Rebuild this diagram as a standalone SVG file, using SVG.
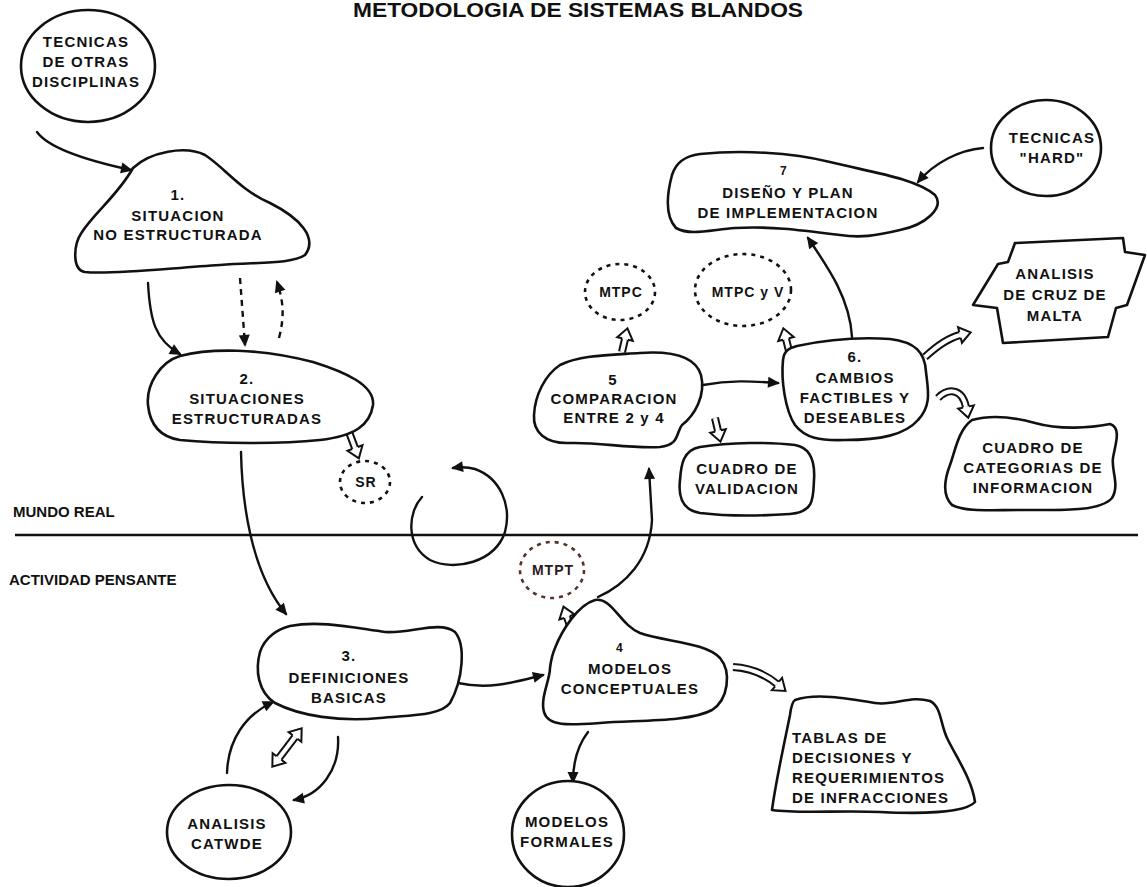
<svg xmlns="http://www.w3.org/2000/svg" width="1147" height="887" viewBox="0 0 1147 887">
  <style>
    .node { fill: #fff; stroke: #111; stroke-width: 2.6; stroke-linejoin: round; }
    .dnode { fill: none; stroke: #111; stroke-width: 2.6; stroke-dasharray: 4 5; }
    .t { font-family: "Liberation Sans", Arial, sans-serif; font-weight: bold; font-size: 15px; letter-spacing: 1.2px; fill: #111; text-anchor: middle; }
    .ts { font-size: 14px; letter-spacing: 1px; }
    .tn { font-size: 12px; }
    .lbl { font-family: "Liberation Sans", Arial, sans-serif; font-weight: bold; font-size: 15px; fill: #111; }
    .c { fill: none; stroke: #111; stroke-width: 2.4; stroke-linecap: round; marker-end: url(#ah); }
    .dash { stroke-dasharray: 6 5; stroke-linecap: butt; }
    .ho { fill: none; stroke: #111; stroke-width: 8; stroke-linecap: butt; marker-end: url(#hh); }
    .ho2 { marker-start: url(#hh2); }
    .hi { fill: none; stroke: #fff; stroke-width: 4; stroke-linecap: butt; }
  </style>
  <defs>
    <marker id="ah" markerUnits="userSpaceOnUse" viewBox="-2 -7 16 14" markerWidth="16" markerHeight="14" refX="10" refY="0" orient="auto" overflow="visible">
      <path d="M0,-5.5 L12,0 L0,5.5 Z" fill="#111"/>
    </marker>
    <marker id="hh" markerUnits="userSpaceOnUse" viewBox="-2 -10 16 20" markerWidth="16" markerHeight="20" refX="0" refY="0" orient="auto" overflow="visible">
      <polyline points="0,-3 0,-8 11,0 0,8 0,3" fill="#fff" stroke="#111" stroke-width="2"/>
    </marker>
    <marker id="hh2" markerUnits="userSpaceOnUse" viewBox="-2 -10 16 20" markerWidth="16" markerHeight="20" refX="0" refY="0" orient="auto-start-reverse" overflow="visible">
      <polyline points="0,-3 0,-8 11,0 0,8 0,3" fill="#fff" stroke="#111" stroke-width="2"/>
    </marker>
  </defs>

  <rect width="1147" height="887" fill="#fff"/>

  <!-- title -->
  <text x="578" y="17" class="lbl" text-anchor="middle" textLength="450" lengthAdjust="spacingAndGlyphs" style="font-size:20px">METODOLOGIA DE SISTEMAS BLANDOS</text>

  <!-- boundary between real world and systems thinking -->
  <line x1="15" y1="535" x2="1138" y2="535" stroke="#111" stroke-width="2.6"/>
  <text x="13" y="517" class="lbl">MUNDO REAL</text>
  <text x="9" y="585" class="lbl">ACTIVIDAD PENSANTE</text>

  <!-- connectors -->
  <g id="connectors">
    <path class="c" d="M37,132 Q52,153 131,170"/>
    <path class="c" d="M148,283 C150,320 155,340 180,354"/>
    <path class="c dash" d="M240,278 L245,345"/>
    <path class="c dash" d="M279,338 C285,315 283,300 277,282"/>
    <path class="c" d="M422,497 C408,512 405,545 430,560 C455,572 495,562 505,532 C512,505 500,478 475,469 C468,467 460,467 453,468"/>
    <path class="c" d="M241,452 C242,500 250,570 286,614"/>
    <path class="c" d="M227,773 C228,740 245,715 273,702"/>
    <path class="c" d="M338,737 C340,770 320,795 294,800"/>
    <path class="c" d="M458,683 C490,690 515,682 543,675"/>
    <path class="c" d="M598,597 C625,585 650,560 652,520 L649,469"/>
    <path class="c" d="M588,732 C578,745 573,760 573,782"/>
    <path class="c" d="M703,385 C730,380 750,381 778,383"/>
    <path class="c" d="M852,337 C850,300 830,270 808,238"/>
    <path class="c" d="M983,148 C960,150 935,162 918,182"/>

    <!-- hollow (double-line) arrows -->
    <path class="ho" d="M349,432 L355,448"/>
    <path class="hi" d="M349,432 L355,448"/>
    <path class="ho ho2" d="M295,737 L279,758"/>
    <path class="hi" d="M295,737 L279,758"/>
    <path class="ho" d="M571,629 L567,617"/>
    <path class="hi" d="M571,629 L567,617"/>
    <path class="ho" d="M733,667 C752,668 766,675 777,684"/>
    <path class="hi" d="M733,667 C752,668 766,675 777,684"/>
    <path class="ho" d="M622,352 L625,339"/>
    <path class="hi" d="M622,352 L625,339"/>
    <path class="ho" d="M715,418 L718,431"/>
    <path class="hi" d="M715,418 L718,431"/>
    <path class="ho" d="M789,351 L786,339"/>
    <path class="hi" d="M789,351 L786,339"/>
    <path class="ho" d="M925,357 C938,345 948,338 960,335"/>
    <path class="hi" d="M925,357 C938,345 948,338 960,335"/>
    <path class="ho" d="M938,398 C948,388 962,388 966,407"/>
    <path class="hi" d="M938,398 C948,388 962,388 966,407"/>
  </g>

  <!-- nodes -->
  <g id="n-otras">
    <ellipse class="node" cx="88" cy="66" rx="67" ry="56"/>
    <text class="t" x="86" y="47">TECNICAS</text>
    <text class="t" x="86" y="67">DE OTRAS</text>
    <text class="t" x="86" y="87">DISCIPLINAS</text>
  </g>

  <g id="n1">
    <path class="node" d="M133,168 C150,152 185,145 205,155 C225,168 240,190 270,203 C300,218 318,238 305,255 C292,264 260,262 220,265 C170,268 110,275 85,272 C72,270 73,245 82,232 C95,212 118,195 133,168 Z"/>
    <text class="t" x="178" y="200">1.</text>
    <text class="t" x="178" y="221">SITUACION</text>
    <text class="t" x="178" y="240">NO ESTRUCTURADA</text>
  </g>

  <g id="n2">
    <path class="node" d="M180,356 C210,348 260,348 313,362 C345,372 375,385 373,405 C370,425 355,436 320,440 C280,444 220,444 180,440 C160,437 150,425 148,405 C146,385 160,362 180,356 Z"/>
    <text class="t" x="247" y="384">2.</text>
    <text class="t" x="247" y="404">SITUACIONES</text>
    <text class="t" x="247" y="424">ESTRUCTURADAS</text>
  </g>

  <g id="n-sr">
    <ellipse class="dnode" cx="365" cy="482" rx="25" ry="21"/>
    <text class="t ts" x="366" y="487">SR</text>
  </g>

  <g id="n3">
    <path class="node" d="M290,626 C320,620 355,628 385,632 C410,634 440,620 455,632 C466,645 463,680 450,703 C440,716 410,715 380,718 C340,722 300,716 275,703 C258,692 255,670 260,652 C265,637 278,629 290,626 Z"/>
    <text class="t" x="349" y="661">3.</text>
    <text class="t" x="349" y="683">DEFINICIONES</text>
    <text class="t" x="349" y="703">BASICAS</text>
  </g>

  <g id="n-catwde">
    <ellipse class="node" cx="229" cy="832" rx="62" ry="47"/>
    <text class="t" x="227" y="829">ANALISIS</text>
    <text class="t" x="227" y="849">CATWDE</text>
  </g>

  <g id="n4">
    <path class="node" d="M555,648 C562,630 578,605 595,600 C612,597 620,625 640,633 C665,642 705,642 720,658 C732,672 728,700 712,710 C690,722 640,720 600,723 C570,725 548,727 544,712 C540,698 550,680 550,668 C551,660 552,655 555,648 Z"/>
    <text class="t tn" x="620" y="652">4</text>
    <text class="t" x="630" y="674">MODELOS</text>
    <text class="t" x="630" y="694">CONCEPTUALES</text>
  </g>

  <g id="n-mtpt">
    <ellipse class="dnode" cx="552" cy="570" rx="32" ry="28" style="stroke:#5c2e2e"/>
    <text class="t ts" x="553" y="575" style="fill:#2a1a1a">MTPT</text>
  </g>

  <g id="n-formales">
    <ellipse class="node" cx="568" cy="834" rx="56" ry="53"/>
    <text class="t" x="567" y="827">MODELOS</text>
    <text class="t" x="567" y="847">FORMALES</text>
  </g>

  <g id="n-tablas">
    <path class="node" d="M795,700 C815,693 845,698 875,703 C895,706 910,695 930,701 C942,707 940,725 948,740 C958,760 972,780 975,802 C965,813 920,814 880,812 C840,810 800,814 772,810 C776,780 785,740 790,715 C791,707 792,702 795,700 Z"/>
    <text class="t" x="792" y="743" style="text-anchor:start">TABLAS DE</text>
    <text class="t" x="792" y="763" style="text-anchor:start">DECISIONES Y</text>
    <text class="t" x="792" y="783" style="text-anchor:start">REQUERIMIENTOS</text>
    <text class="t" x="792" y="803" style="text-anchor:start">DE INFRACCIONES</text>
  </g>

  <g id="n5">
    <path class="node" d="M560,365 C580,355 610,355 640,353 C670,351 695,355 701,375 C706,395 695,415 682,425 C676,432 680,445 660,447 C630,449 600,442 570,443 C545,444 533,432 534,415 C535,395 545,375 560,365 Z"/>
    <text class="t" x="613" y="385">5</text>
    <text class="t" x="614" y="404">COMPARACION</text>
    <text class="t" x="614" y="423">ENTRE 2 y 4</text>
  </g>

  <g id="n-mtpc">
    <ellipse class="dnode" cx="620" cy="292" rx="35" ry="28"/>
    <text class="t ts" x="621" y="297">MTPC</text>
  </g>

  <g id="n-mtpcv">
    <ellipse class="dnode" cx="743" cy="290" rx="48" ry="36"/>
    <text class="t ts" x="748" y="297">MTPC y V</text>
  </g>

  <g id="n-validacion">
    <path class="node" d="M700,447 C730,442 770,442 795,445 C812,448 815,465 814,480 C813,497 815,512 790,514 C760,516 725,516 700,513 C682,510 678,497 680,480 C681,465 683,450 700,447 Z"/>
    <text class="t" x="747" y="474">CUADRO DE</text>
    <text class="t" x="747" y="494">VALIDACION</text>
  </g>

  <g id="n6">
    <path class="node" d="M797,346 C825,340 860,337 890,339 C915,342 925,352 926,372 C928,390 932,405 918,420 C905,435 880,440 845,440 C820,441 805,438 795,425 C785,410 781,380 783,360 C784,350 790,348 797,346 Z"/>
    <text class="t" x="855" y="362">6.</text>
    <text class="t" x="855" y="383">CAMBIOS</text>
    <text class="t" x="855" y="403">FACTIBLES Y</text>
    <text class="t" x="855" y="423">DESEABLES</text>
  </g>

  <g id="n7">
    <path class="node" d="M700,154 C740,150 790,152 830,162 C870,172 915,178 935,195 C945,208 925,225 900,230 C875,236 860,238 840,235 C800,230 770,226 735,228 C710,230 690,236 676,228 C664,215 668,190 672,175 C676,162 685,156 700,154 Z"/>
    <text class="t tn" x="784" y="175">7</text>
    <text class="t" x="788" y="198">DISEÑO Y PLAN</text>
    <text class="t" x="788" y="218">DE IMPLEMENTACION</text>
  </g>

  <g id="n-hard">
    <ellipse class="node" cx="1046" cy="148" rx="55" ry="48"/>
    <text class="t" x="1052" y="143">TECNICAS</text>
    <text class="t" x="1052" y="163">"HARD"</text>
  </g>

  <g id="n-malta">
    <path class="node" d="M1015,243 L1123,238 L1125,252 L1145,255 L1127,305 L1116,308 L1108,337 L1003,343 L997,308 L973,305 L998,264 L1008,262 Z"/>
    <text class="t" x="1055" y="279">ANALISIS</text>
    <text class="t" x="1055" y="300">DE CRUZ DE</text>
    <text class="t" x="1055" y="321">MALTA</text>
  </g>

  <g id="n-categorias">
    <path class="node" d="M972,420 C990,415 1010,416 1035,423 C1060,430 1090,428 1110,424 C1122,428 1115,445 1113,458 C1111,470 1120,485 1112,498 C1100,512 1060,510 1020,510 C990,510 965,512 952,505 C942,495 945,478 950,465 C955,452 958,430 972,420 Z"/>
    <text class="t" x="1033" y="453">CUADRO DE</text>
    <text class="t" x="1033" y="473">CATEGORIAS DE</text>
    <text class="t" x="1033" y="493">INFORMACION</text>
  </g>
</svg>
